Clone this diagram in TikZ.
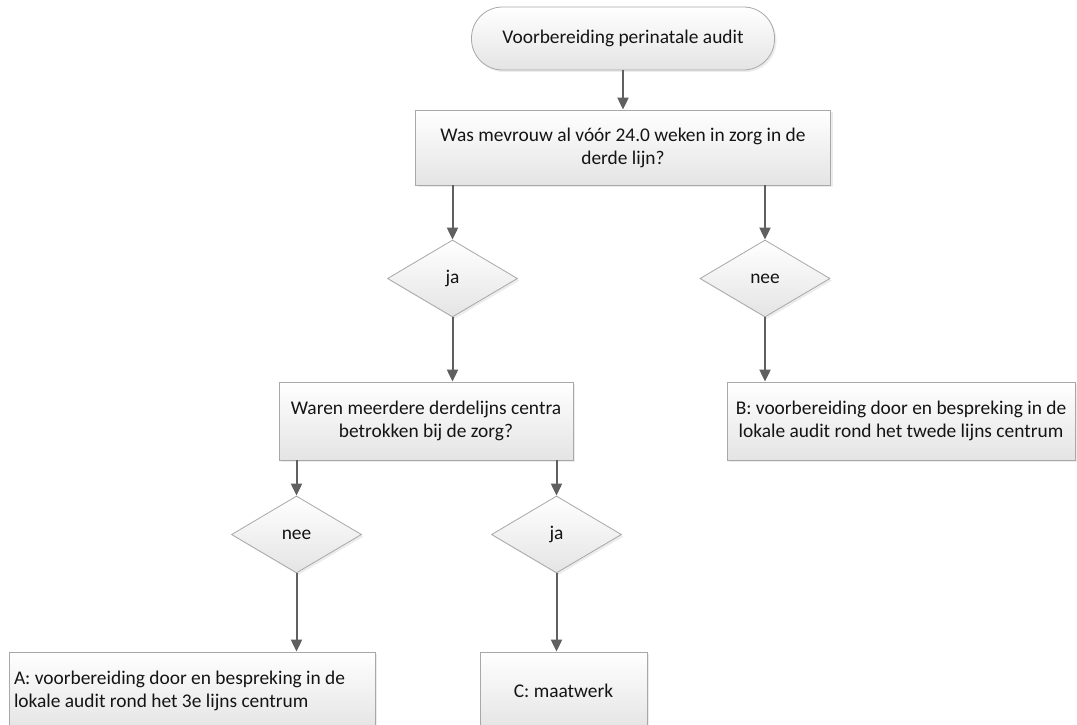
\documentclass[tikz,border=0pt]{standalone}
\usepackage{fontspec}
\setmainfont{Carlito}
\usetikzlibrary{shapes.geometric,arrows.meta,shadows}

\definecolor{boxline}{RGB}{168,168,168}
\definecolor{boxfill}{RGB}{228,228,228}
\definecolor{arrowcol}{RGB}{96,96,96}
\definecolor{textcol}{RGB}{20,20,20}

\tikzset{
  flowbox/.style={draw=boxline, line width=0.8pt, top color=white, bottom color=boxfill,
    drop shadow={shadow xshift=2pt, shadow yshift=-2pt, opacity=0.15},
    inner xsep=5pt, inner ysep=4pt, align=center, text=textcol,
    font=\fontsize{19.4}{23}\selectfont},
  decision/.style={flowbox, diamond, minimum width=130pt, minimum height=77pt, inner sep=0pt},
  terminal/.style={flowbox, rounded corners=31pt, minimum width=303pt, minimum height=63pt},
  flowarrow/.style={line width=2pt, draw=arrowcol, -{Triangle[length=12pt,width=11pt]}},
}

\begin{document}
\begin{tikzpicture}[x=1pt,y=-1pt]

				\fill[white] (0,0) rectangle (1077,725);
				\useasboundingbox (0,0) rectangle (1077,725);

				\def\xmid{623}
				\def\xja{452.5}
				\def\xnee{765}
				\def\xvraag{426}
				\def\xB{901}
				\def\xneeL{296.5}
				\def\xjaL{556.5}
				\def\xA{192}
				\def\xC{563.5}

				%start
				\node[terminal] (start) at (\xmid,38.5) {Voorbereiding perinatale audit};

				%first question
				\node[flowbox, minimum width=415pt, minimum height=75pt] (vraag1) at (\xmid,147.5)
					{Was mevrouw al vóór 24.0 weken in zorg in de\\derde lijn?};

				%first decision
				\node[decision] (ja1) at (\xja,278.5) {ja};
				\node[decision] (nee1) at (\xnee,278.5) {nee};

				%second question and outcome B
				\node[flowbox, minimum width=294pt, minimum height=78pt] (vraag2) at (\xvraag,421)
					{Waren meerdere derdelijns centra\\betrokken bij de zorg?};
				\node[flowbox, minimum width=348pt, minimum height=78pt] (uitkomstB) at (\xB,421)
					{B: voorbereiding door en bespreking in de\\lokale audit rond het twede lijns centrum};

				%second decision
				\node[decision] (nee2) at (\xneeL,534.5) {nee};
				\node[decision] (ja2) at (\xjaL,534.5) {ja};

				%outcomes A and C
				\node[flowbox, minimum width=366pt, minimum height=78pt, text width=356pt, align=flush left] (uitkomstA) at (\xA,691)
					{A: voorbereiding door en bespreking in de\\lokale audit rond het 3e lijns centrum};
				\node[flowbox, minimum width=167pt, minimum height=78pt] (uitkomstC) at (\xC,691) {C: maatwerk};

				%connectors
				\draw[flowarrow] (start) -- (vraag1);
				\draw[flowarrow] (ja1.north |- vraag1.south) -- (ja1.north);
				\draw[flowarrow] (nee1.north |- vraag1.south) -- (nee1.north);
				\draw[flowarrow] (ja1.south) -- (ja1.south |- vraag2.north);
				\draw[flowarrow] (nee1.south) -- (nee1.south |- uitkomstB.north);
				\draw[flowarrow] (nee2.north |- vraag2.south) -- (nee2.north);
				\draw[flowarrow] (ja2.north |- vraag2.south) -- (ja2.north);
				\draw[flowarrow] (nee2.south) -- (nee2.south |- uitkomstA.north);
				\draw[flowarrow] (ja2.south) -- (ja2.south |- uitkomstC.north);

\end{tikzpicture}
\end{document}
